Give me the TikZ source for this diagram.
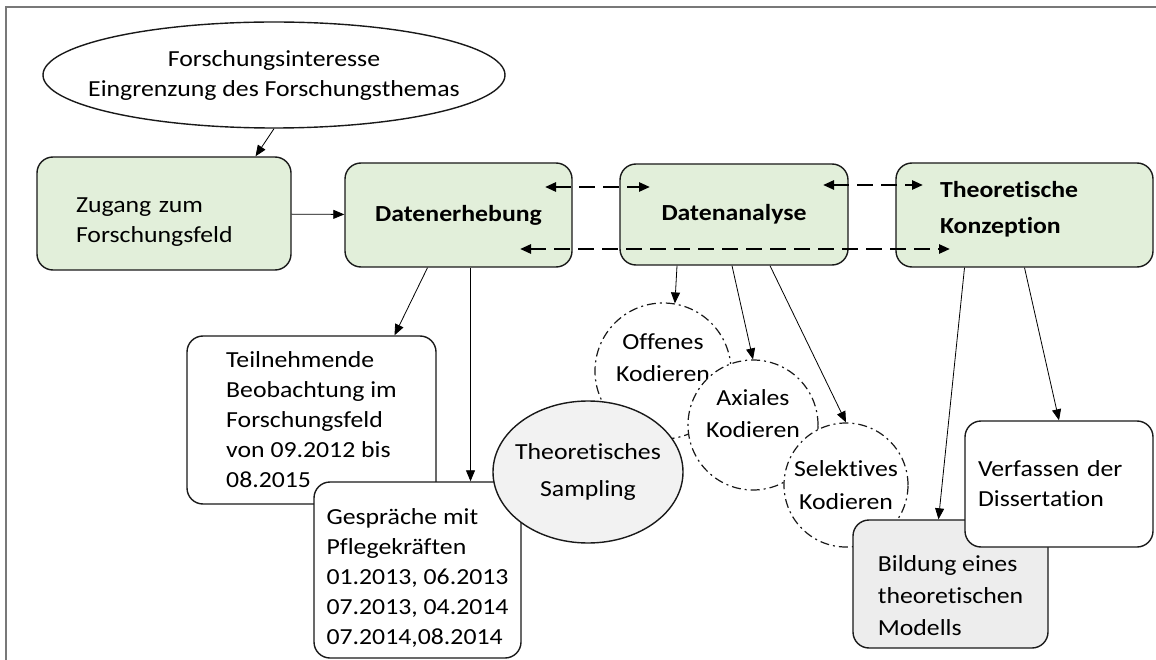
\documentclass[tikz,border=0pt]{standalone}
\usepackage{fontspec}
\setmainfont{Carlito}[FakeStretch=1.12, Ligatures=NoCommon]
\usepackage{xcolor}
\usepackage{tikz}
\usetikzlibrary{shapes.geometric}
\usetikzlibrary{arrows.meta}
\definecolor{boxgreen}{RGB}{226,239,218}
\definecolor{samplegray}{RGB}{242,242,242}
\definecolor{modelgray}{RGB}{237,237,237}
\definecolor{framegray}{RGB}{120,120,120}
% strut to move a text block down (first line) or up (last line)
\newcommand{\lowertext}[1]{\rule{0pt}{#1}}
\newcommand{\raisetext}[1]{\rule[-#1]{0pt}{#1}}

\begin{document}
\begin{tikzpicture}[x=1pt, y=-1pt, font=\fontsize{23}{30}\selectfont,
	every node/.style={draw=black!90, line width=1.4pt, inner sep=0pt, align=left},
	box/.style={rectangle, rounded corners=16pt},
	ring/.style={circle, fill=white, line width=1.2pt, dash pattern=on 9pt off 4pt on 2pt off 4pt, align=center},
	>={Triangle[length=11pt,width=9pt]}]
	\useasboundingbox (0,0) rectangle (1156,660);
	\draw[framegray, line width=1.5pt] (1156,7) -- (6,7) -- (6,660);
	% Nodes
	\node[ellipse, minimum width=462pt, minimum height=106pt, inner xsep=-40pt, align=center] (1) at (274,75) {Forschungsinteresse\\Eingrenzung des Forschungsthemas};
	\node[box, fill=boxgreen, text width=176pt, inner xsep=39pt, minimum height=113pt] (2) at (164,213.5) {\lowertext{31pt}Zugang zum\\Forschungsfeld};
	\node[box, fill=boxgreen, minimum width=227pt, minimum height=104pt] (3) at (458.5,215) {\textbf{Datenerhebung}};
	\node[box, fill=boxgreen, minimum width=228pt, minimum height=101pt] (4) at (734,214.5) {\textbf{Datenanalyse}};
	\node[box, fill=boxgreen, text width=169pt, inner xsep=44pt, minimum height=104pt] (5) at (1024.5,215) {\textbf{Theoretische}\\[6pt]\textbf{Konzeption}\raisetext{15pt}};
	\node[box, fill=white, minimum width=249pt, minimum height=168pt] (6) at (311.5,420) {Teilnehmende\\Beobachtung im\\Forschungsfeld\\von 09.2012 bis\\08.2015};
	\node[box, fill=white, minimum width=207pt, minimum height=176pt] (7) at (417.5,570) {\lowertext{32pt}Gespräche mit\\Pflegekräften\\01.2013, 06.2013\\07.2013, 04.2014\\07.2014,08.2014};
	\node[ring, minimum size=136pt] (8) at (663,371) {Offenes\\[2pt]Kodieren\raisetext{26pt}};
	\node[ring, minimum size=130pt] (9) at (753,425) {Axiales\\[2pt]Kodieren\raisetext{22pt}};
	\node[ring, minimum size=124pt] (10) at (846,485) {Selektives\\[3pt]Kodieren};
	\node[ellipse, fill=samplegray, minimum width=190pt, minimum height=142pt, inner xsep=-12pt, align=center] (11) at (588,472) {Theoretisches\\[7pt]Sampling};
	\node[box, fill=modelgray, minimum width=195pt, minimum height=128pt] (12) at (950.5,584) {\lowertext{40pt}Bildung eines\\[2pt]theoretischen\\[2pt]Modells};
	\node[box, fill=white, text width=162pt, inner xsep=13pt, minimum height=126pt] (13) at (1059,484) {Verfassen der\\Dissertation};
	% Ends of the dashed arrows
	\coordinate (a1) at (545,187);
	\coordinate (a2) at (650,187);
	\coordinate (b1) at (823,185);
	\coordinate (b2) at (923,185);
	\coordinate (c1) at (520,249);
	\coordinate (c2) at (950,249);
	% Edges
	\draw[->, line width=0.8pt] (1.south) -- (2.32);
	\draw[->, line width=0.8pt] (2) -- (3);
	\draw[->, line width=0.8pt] ([xshift=-31pt]3.south) -- ([xshift=83pt]6.north);
	\draw[->, line width=0.8pt] ([xshift=12pt]3.south) -- ([xshift=53pt]7.north);
	\draw[->, line width=0.8pt] ([xshift=-57pt]4.south) -- (8.80);
	\draw[->, line width=0.8pt] ([xshift=-2pt]4.south) -- (9.north);
	\draw[->, line width=0.8pt] ([xshift=36pt]4.south) -- (10.north);
	\draw[->, line width=0.8pt] ([xshift=-60pt]5.south) -- ([xshift=-12pt]12.north);
	\draw[->, line width=0.8pt] (5.south) -- (13.north);
	% Dashed arrows
	\draw[<->, line width=2.5pt, dash pattern=on 16pt off 8pt] (a1) -- (a2);
	\draw[<->, line width=2.5pt, dash pattern=on 16pt off 8pt] (b1) -- (b2);
	\draw[<->, line width=2.5pt, dash pattern=on 16pt off 8pt] (c1) -- (c2);
\end{tikzpicture}
\end{document}
